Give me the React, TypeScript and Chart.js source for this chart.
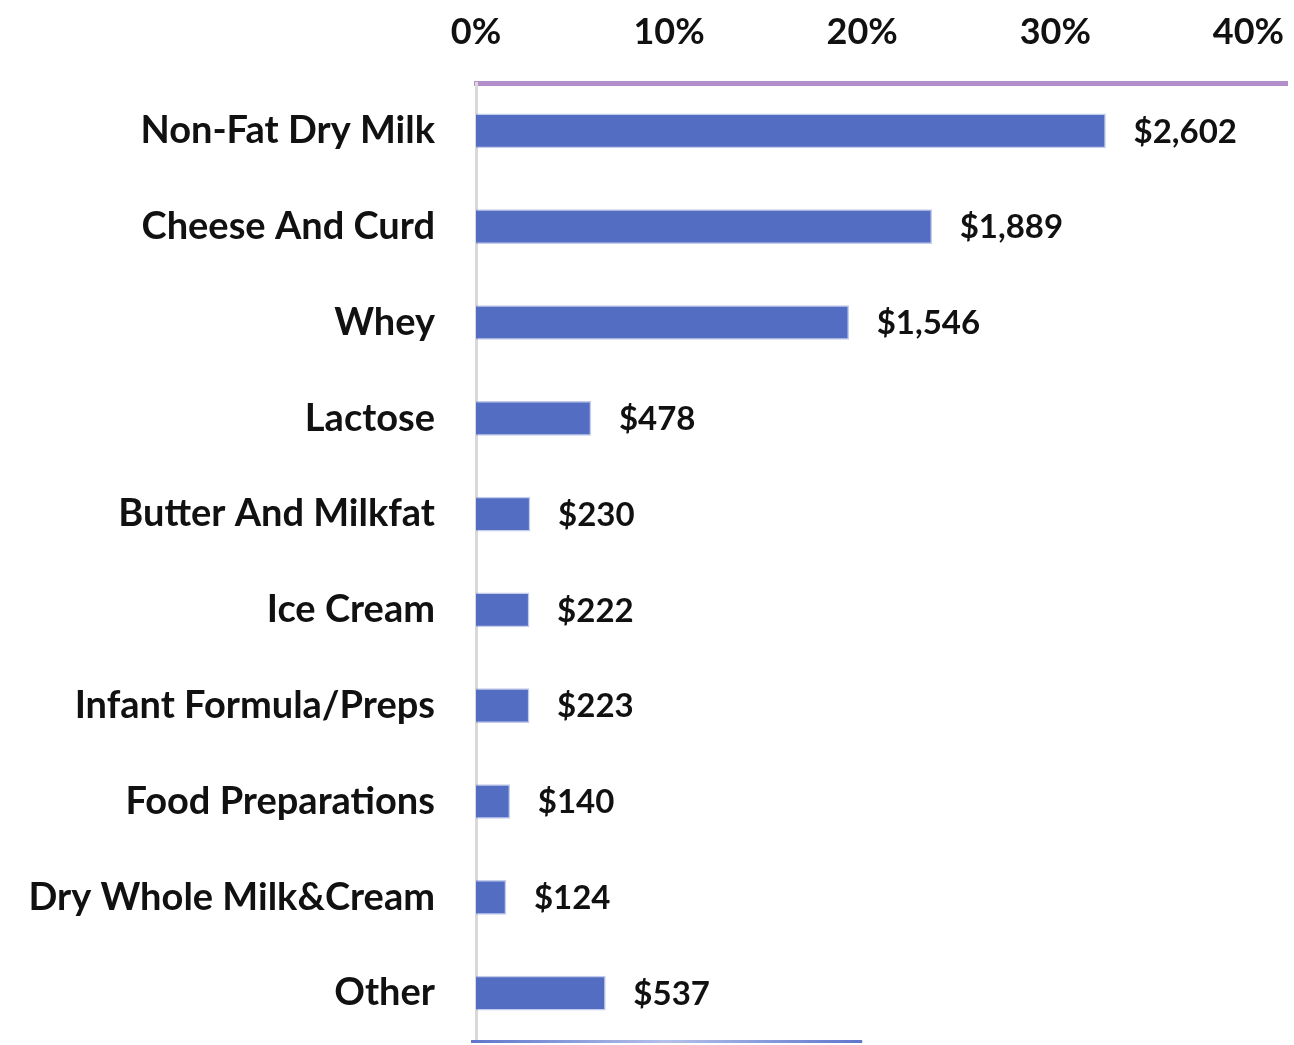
import React, { useEffect, useRef } from "react";
import { Chart, registerables } from "chart.js";

Chart.register(...registerables);

const categories = [
  "Non-Fat Dry Milk",
  "Cheese And Curd",
  "Whey",
  "Lactose",
  "Butter And Milkfat",
  "Ice Cream",
  "Infant Formula/Preps",
  "Food Preparations",
  "Dry Whole Milk&Cream",
  "Other",
];
// share of total (%)
const shares = [32.6, 23.6, 19.3, 5.95, 2.8, 2.75, 2.75, 1.75, 1.55, 6.7];
const valueLabels = ["$2,602", "$1,889", "$1,546", "$478", "$230", "$222", "$223", "$140", "$124", "$537"];
const tickValues = [0, 10, 20, 30, 40];

const FONT = "Lato, 'Noto Sans', sans-serif";
const TEXT = "#111111";

const decorPlugin = {
  id: "decor",
  afterDatasetsDraw(chart: any) {
    const ctx = chart.ctx;
    const meta = chart.getDatasetMeta(0);
    ctx.save();
    ctx.font = `bold 33px ${FONT}`;
    ctx.fillStyle = TEXT;
    ctx.textAlign = "left";
    ctx.textBaseline = "middle";
    meta.data.forEach((bar: any, i: number) => {
      ctx.fillText(valueLabels[i], bar.x + 28, bar.y + 1);
    });
    // bottom accent line
    const xs = chart.scales.x;
    const area = chart.chartArea;
    const x0 = area.left - 5;
    const x1 = xs.getPixelForValue(20);
    const g = ctx.createLinearGradient(x0, 0, x1, 0);
    g.addColorStop(0, "#5f76cc");
    g.addColorStop(0.5, "#b4c0ea");
    g.addColorStop(1, "#5f76cc");
    ctx.strokeStyle = g;
    ctx.lineWidth = 3;
    ctx.beginPath();
    ctx.moveTo(x0, area.bottom + 0.5);
    ctx.lineTo(x1, area.bottom + 0.5);
    ctx.stroke();
    ctx.restore();
  },
};

export default function App() {
  const ref = useRef<HTMLCanvasElement>(null);
  useEffect(() => {
    document.body.style.margin = "0";
    const chart = new Chart(ref.current!, {
      type: "bar",
      data: {
        labels: categories,
        datasets: [
          {
            data: shares,
            backgroundColor: "#536dc3",
            borderColor: "rgba(83,109,195,0.35)",
            borderWidth: 1.5,
            barThickness: 34,
          },
        ],
      },
      options: {
        indexAxis: "y",
        animation: false,
        responsive: false,
        devicePixelRatio: 1,
        layout: { padding: { top: 0, left: 0, right: 7, bottom: 4 } },
        plugins: { legend: { display: false }, tooltip: { enabled: false } },
        scales: {
          x: {
            position: "top",
            min: 0,
            max: 42,
            afterBuildTicks: (scale: any) => {
              scale.ticks = tickValues.map((v) => ({ value: v }));
            },
            afterFit: (scale: any) => {
              scale.height = 83;
              scale.paddingLeft = 0;
              scale.paddingRight = 0;
              scale.paddingTop = 0;
              scale.paddingBottom = 0;
            },
            grid: { display: false, drawTicks: false },
            border: { display: true, color: "#b48ecb", width: 5 },
            ticks: {
              padding: 29,
              color: TEXT,
              font: { family: FONT, size: 36, weight: "bold" },
              callback: (v: any) => `${v}%`,
            },
          },
          y: {
            afterFit: (scale: any) => {
              scale.width = 476;
              scale.paddingLeft = 0;
              scale.paddingRight = 0;
              scale.paddingTop = 0;
              scale.paddingBottom = 0;
            },
            grid: { display: false, drawTicks: false },
            border: { display: true, color: "#d9d9d9", width: 3 },
            ticks: {
              padding: 41,
              color: TEXT,
              font: { family: FONT, size: 38, weight: "bold" },
            },
          },
        },
      },
      plugins: [decorPlugin],
    } as any);
    return () => chart.destroy();
  }, []);
  return (
    <div style={{ position: "fixed", left: 0, top: 0, width: 1294, height: 1045, background: "#fff" }}>
      <canvas ref={ref} width={1294} height={1045} style={{ display: "block", width: 1294, height: 1045 }} />
    </div>
  );
}
